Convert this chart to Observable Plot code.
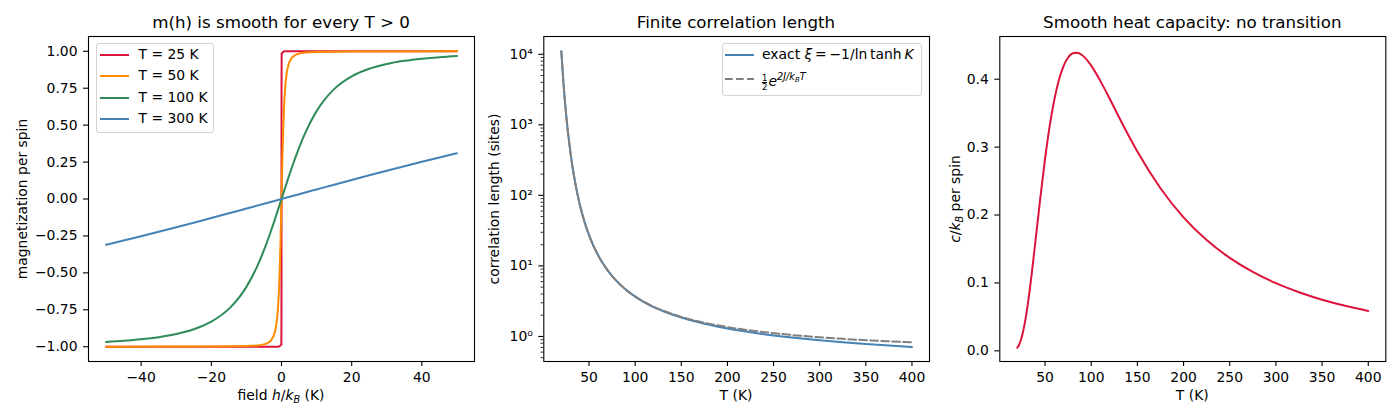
<!DOCTYPE html>
<html><head><meta charset="utf-8">
<script src="https://cdn.jsdelivr.net/npm/d3@7"></script>
<script src="https://cdn.jsdelivr.net/npm/@observablehq/plot@0.6"></script>
<style>
body{margin:0;background:#fff;font-family:"DejaVu Sans",sans-serif;}
#root{position:relative;width:1400px;height:420px;overflow:hidden;background:#fff;}
.panel{position:absolute;top:0;}
.t{position:absolute;white-space:nowrap;line-height:1;color:#000;font-size:13.9px;}
.title{font-size:16.7px;transform:translateX(-50%);}
.xl{transform:translateX(-50%);}
.yl{transform:translate(-50%,-50%) rotate(-90deg);}
.sub{font-size:9.7px;vertical-align:-3px;font-style:italic;}
.legbox{position:absolute;border:1px solid #d4d4d4;border-radius:3px;background:rgba(255,255,255,0.8);box-sizing:border-box;}
.frac{display:inline-flex;flex-direction:column;font-size:8.5px;line-height:0.95;vertical-align:5px;text-align:center;margin-right:1px;}
.frac .den{border-top:0.8px solid #000;}
.sup{font-size:9.7px;vertical-align:6px;font-style:italic;}
.sup .ss{font-size:7px;vertical-align:-2px;}
svg.leg{position:absolute;overflow:visible;}
</style>
</head><body>
<div id="root"></div>
<script>
// ---------- Panel 1: magnetization vs field ----------
const seriesNames = ["T = 25 K", "T = 50 K", "T = 100 K", "T = 300 K"];
const seriesColors = ["#dc143c", "#ff8c00", "#2e8b57", "#4682b4"];

const field25 = [-50,-1,-0.05,-0.01,0,0.01,0.05,1,50];
const mag25   = [-1,-1,-0.986,-0.766,0,0.766,0.986,1,1];

const field50 = [-50,-20,-10,-7,-5,-4,-3,-2,-1.5,-1,-0.75,-0.5,-0.25,0,0.25,0.5,0.75,1,1.5,2,3,4,5,7,10,20,50];
const mag50   = [-0.9999,-0.9990,-0.9956,-0.9917,-0.984,-0.9749,-0.9567,-0.909,-0.8538,-0.738,-0.6339,-0.479,-0.2635,0,0.2635,0.479,0.6339,0.738,0.8538,0.909,0.9567,0.9749,0.984,0.9917,0.9956,0.9990,0.9999];

const field100 = [-50,-45,-40,-35,-30,-25,-20,-15,-12,-10,-7,-5,-3,-2,-1,0,1,2,3,5,7,10,12,15,20,25,30,35,40,45,50];
const mag100   = [-0.9679,-0.9602,-0.9498,-0.9351,-0.9138,-0.8814,-0.8299,-0.7437,-0.6643,-0.5949,-0.4597,-0.3467,-0.2164,-0.1462,-0.0737,0,0.0737,0.1462,0.2164,0.3467,0.4597,0.5949,0.6643,0.7437,0.8299,0.8814,0.9138,0.9351,0.9498,0.9602,0.9679];

const field300 = [-50,-45,-40,-35,-30,-25,-20,-15,-10,-5,0,5,10,15,20,25,30,35,40,45,50];
const mag300   = [-0.3101,-0.2814,-0.2521,-0.2221,-0.1915,-0.1604,-0.1289,-0.0970,-0.0648,-0.0325,0,0.0325,0.0648,0.0970,0.1289,0.1604,0.1915,0.2221,0.2521,0.2814,0.3101];

const fieldTicks = [-40,-20,0,20,40];
const magTicks = [-1,-0.75,-0.5,-0.25,0,0.25,0.5,0.75,1];

// ---------- Panel 2: correlation length ----------
const tempXi   = [20,22,25,30,35,40,45,50,60,70,80,90,100,110,120,130,150,175,200,225,250,275,300,325,350,375,400];
const xiExact  = [11013,4443,1490.5,392.9,151.6,74.21,42.57,27.29,14.01,8.696,6.078,4.596,3.672,3.053,2.612,2.293,1.852,1.513,1.2955,1.1443,1.0334,0.9484,0.8813,0.8267,0.7816,0.7435,0.7108];
const xiApprox = [11013,4443,1490.5,392.9,151.6,74.21,42.58,27.30,14.016,8.706,6.091,4.614,3.6945,3.080,2.647,2.329,1.897,1.568,1.3591,1.2162,1.1128,1.0347,0.9739,0.9251,0.8854,0.8523,0.8244];
const xiMajorTicks = [1,10,100,1000,10000];
const xiMajorLabels = ["10\u2070","10\u00b9","10\u00b2","10\u00b3","10\u2074"];
const xiMinorTicks = [0.5,0.6,0.7,0.8,0.9,2,3,4,5,6,7,8,9,20,30,40,50,60,70,80,90,200,300,400,500,600,700,800,900,2000,3000,4000,5000,6000,7000,8000,9000];

// ---------- Panel 3: heat capacity ----------
const tempC = [20,22,25,27.5,30,32.5,35,40,45,50,55,60,65,70,75,80,85,90,100,110,120,130,140,150,175,200,225,250,275,300,325,350,375,400];
const heatC = [0.0045,0.0093,0.0215,0.0367,0.0564,0.0802,0.1070,0.1662,0.2266,0.2826,0.3308,0.3695,0.3988,0.4194,0.4320,0.4382,0.4390,0.4356,0.4200,0.3972,0.3712,0.3444,0.3183,0.2935,0.2395,0.1966,0.1631,0.1369,0.1162,0.0996,0.0863,0.0753,0.0663,0.0588];
const tempTicks = [50,100,150,200,250,300,350,400];
const heatTicks = [0,0.1,0.2,0.3,0.4];

// ---------- build ----------
const root = document.getElementById("root");
const minus = s => s.replace("-", "\u2212");
const baseStyle = {fontSize:"13.9px", fontFamily:"DejaVu Sans, sans-serif", color:"black", background:"transparent", overflow:"visible"};
const axisOpts = {tickSize:5, tickPadding:6, strokeWidth:1.1, label:null};

function place(svg, left){ const d=document.createElement("div"); d.className="panel"; d.style.left=left+"px"; d.appendChild(svg); root.appendChild(d); }

// Panel 1
const magRows = [];
[[field25,mag25],[field50,mag50],[field100,mag100],[field300,mag300]].forEach(([hs,ms],i)=>{
  hs.forEach((h,j)=>magRows.push({h, m:ms[j], series:seriesNames[i]}));
});
place(Plot.plot({
  width:480, height:420, marginLeft:88, marginRight:6, marginTop:36, marginBottom:59,
  style:baseStyle,
  x:{domain:[-55,55]}, y:{domain:[-1.1,1.1]},
  color:{domain:seriesNames, range:seriesColors},
  marks:[
    Plot.line(magRows,{x:"h", y:"m", stroke:"series", z:"series", strokeWidth:2, curve:"monotone-x"}),
    Plot.axisX({...axisOpts, ticks:fieldTicks, tickFormat:d=>minus(String(d))}),
    Plot.axisY({...axisOpts, ticks:magTicks, tickFormat:d=>minus(d.toFixed(2))}),
    Plot.frame({stroke:"black", strokeWidth:1.1})
  ]
}), 0);

// Panel 2
const xiRows = tempXi.map((t,i)=>({t, v:xiExact[i], kind:"exact"}));
const xiRows2 = tempXi.map((t,i)=>({t, v:xiApprox[i], kind:"approx"}));
place(Plot.plot({
  width:460, height:420, marginLeft:63.3, marginRight:11, marginTop:36, marginBottom:59,
  style:baseStyle,
  x:{domain:[1,419]}, y:{type:"log", domain:[0.4416,17865]},
  marks:[
    Plot.line(xiRows,{x:"t", y:"v", stroke:"#4682b4", strokeWidth:2, curve:"monotone-x"}),
    Plot.line(xiRows2,{x:"t", y:"v", stroke:"#808080", strokeWidth:2, strokeDasharray:"7.7,3.3", curve:"monotone-x"}),
    Plot.axisX({...axisOpts, ticks:tempTicks, tickFormat:d=>String(d)}),
    Plot.axisY({...axisOpts, ticks:xiMajorTicks, tickFormat:d=>xiMajorLabels[xiMajorTicks.indexOf(d)]}),
    Plot.axisY({tickSize:2.8, strokeWidth:0.8, ticks:xiMinorTicks, tickFormat:()=>"", label:null}),
    Plot.frame({stroke:"black", strokeWidth:1.1})
  ]
}), 480);

// Panel 3
const cRows = tempC.map((t,i)=>({t, c:heatC[i]}));
place(Plot.plot({
  width:470, height:420, marginLeft:69.3, marginRight:14.7, marginTop:36, marginBottom:59,
  style:baseStyle,
  x:{domain:[1,419]}, y:{domain:[-0.0157,0.4629]},
  marks:[
    Plot.line(cRows,{x:"t", y:"c", stroke:"#dc143c", strokeWidth:2, curve:"monotone-x"}),
    Plot.axisX({...axisOpts, ticks:tempTicks, tickFormat:d=>String(d)}),
    Plot.axisY({...axisOpts, ticks:heatTicks, tickFormat:d=>d.toFixed(1)}),
    Plot.frame({stroke:"black", strokeWidth:1.1})
  ]
}), 930);

// ---------- text overlays ----------
function txt(html, cls, left, top){ const d=document.createElement("div"); d.className="t "+cls; d.style.left=left+"px"; d.style.top=top+"px"; d.innerHTML=html; root.appendChild(d); return d; }
txt("m(h) is smooth for every T &gt; 0","title",281,13.9);
txt("Finite correlation length","title",736,13.9);
txt("Smooth heat capacity: no transition","title",1192.3,13.9);
txt('field <i>h</i>/<i>k</i><span class="sub">B</span> (K)',"xl",281,389);
txt("T (K)","xl",736,389);
txt("T (K)","xl",1192.3,389);
txt("magnetization per spin","yl",23,198.5);
txt("correlation length (sites)","yl",494.5,198.5);
txt('<i>c</i>/<i>k</i><span class="sub">B</span> per spin',"yl",956.5,198.5);

// legends
function legbox(l,t,w,h){ const d=document.createElement("div"); d.className="legbox"; Object.assign(d.style,{left:l+"px",top:t+"px",width:w+"px",height:h+"px"}); root.appendChild(d); }
function legline(x1,x2,y,color,dash){
  const ns="http://www.w3.org/2000/svg";
  const s=document.createElementNS(ns,"svg"); s.setAttribute("class","leg");
  s.setAttribute("width",x2-x1); s.setAttribute("height",4);
  s.style.left=x1+"px"; s.style.top=(y-2)+"px";
  const ln=document.createElementNS(ns,"line");
  ln.setAttribute("x1",0); ln.setAttribute("x2",x2-x1); ln.setAttribute("y1",2); ln.setAttribute("y2",2);
  ln.setAttribute("stroke",color); ln.setAttribute("stroke-width",2);
  if(dash) ln.setAttribute("stroke-dasharray",dash);
  s.appendChild(ln); root.appendChild(s);
}
legbox(96,43,118,90);
const rowY = [55,76,97.7,119];
seriesNames.forEach((n,i)=>{ legline(99.5,128.5,rowY[i],seriesColors[i]); txt(n,"",138.5,rowY[i]-6.8); });

legbox(721.7,43,200.5,53);
legline(725,754,55,"#4682b4");
txt('exact <i>ξ</i>\u2009=\u2009\u22121/ln\u2009tanh\u2009<i>K</i>',"",762,55-6.8);
legline(725,754,79,"#808080","7.7,3.3");
txt('<span class="frac"><span>1</span><span class="den">2</span></span><i>e</i><span class="sup">2<i>J</i>/<i>k</i><span class="ss">B</span><i>T</i></span>',"",762,79-6.8);
</script>
</body></html>
